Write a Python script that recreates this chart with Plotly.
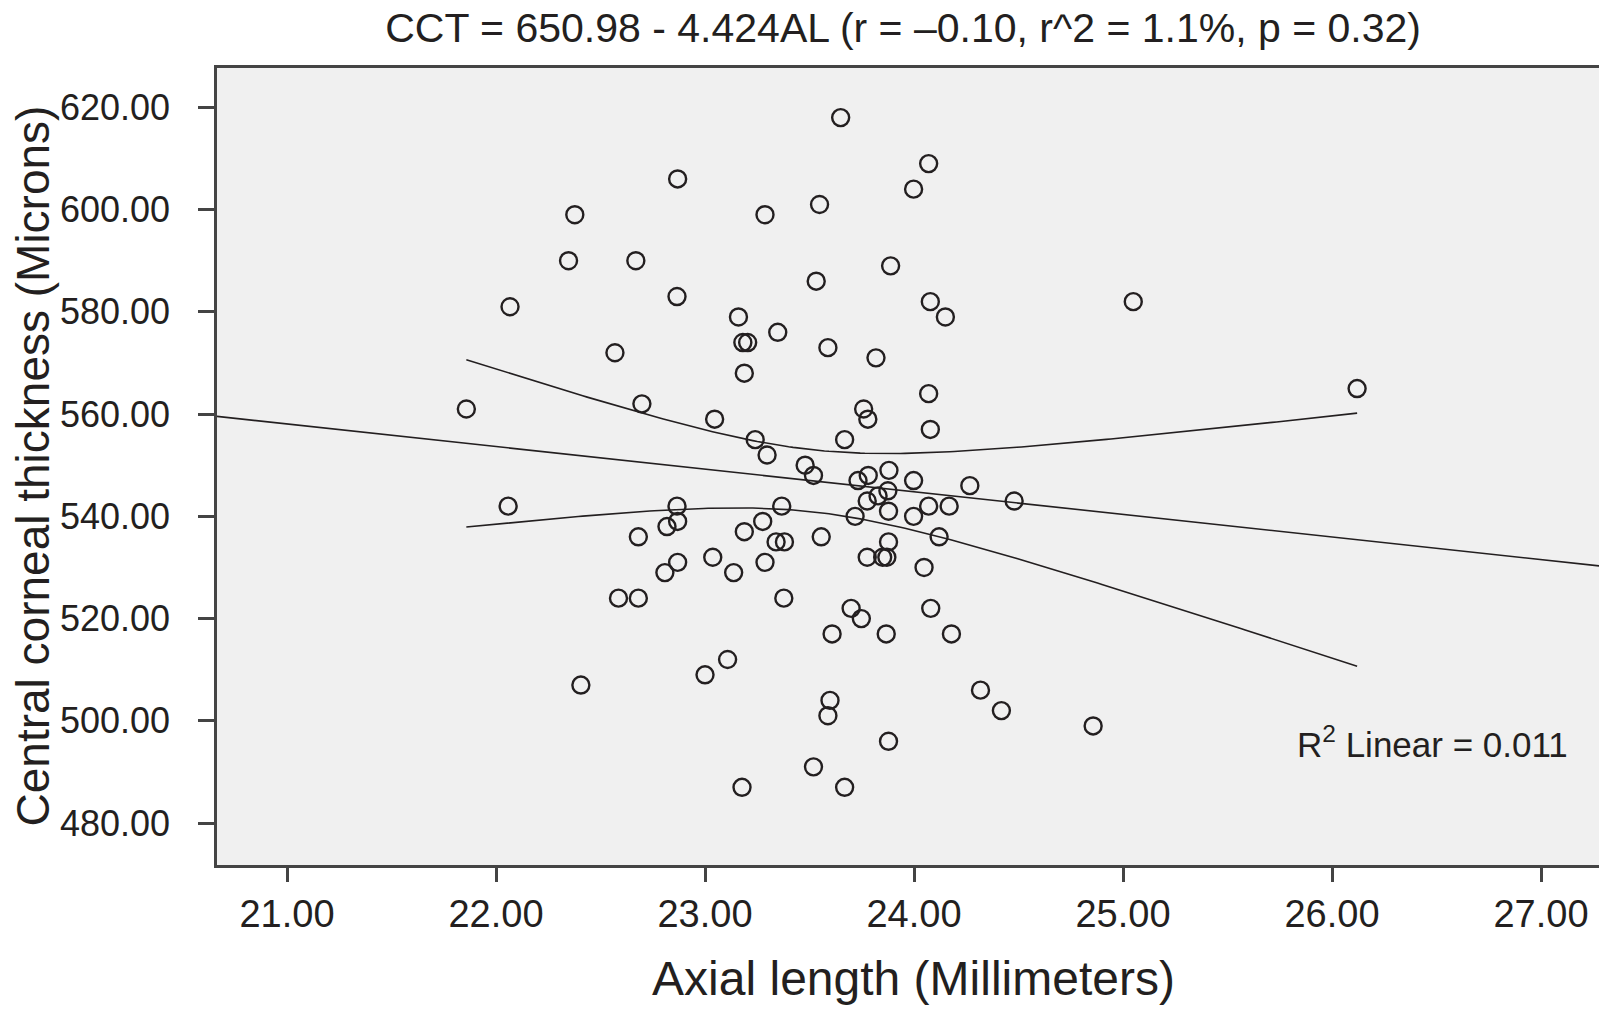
import numpy as np
import plotly.graph_objects as go

# axial length (mm) and central corneal thickness (microns)
axial_length = [
    22.869, 22.377, 23.287, 23.548, 22.347, 22.669, 23.532, 22.866, 22.067, 23.160,
    23.348, 23.181, 23.204, 22.569, 23.588, 23.818, 23.188, 23.649, 24.070, 23.998,
    23.888, 24.078, 24.150, 25.049, 21.858, 22.698, 23.046, 23.240, 23.297, 23.479,
    23.519, 22.058, 22.866, 23.367, 22.869, 22.818, 23.276, 22.681, 23.188, 23.340,
    23.380, 23.556, 23.037, 22.869, 22.808, 23.137, 23.287, 22.586, 22.681, 23.377,
    24.070, 23.759, 23.779, 24.078, 23.668, 23.732, 23.781, 23.880, 23.998, 24.267,
    23.875, 23.828, 23.776, 24.479, 23.878, 24.070, 24.168, 23.718, 23.998, 24.120,
    23.878, 23.776, 23.850, 23.870, 24.048, 23.699, 24.080, 23.748, 23.608, 23.867,
    24.179, 24.318, 24.418, 24.857, 23.598, 23.588, 23.878, 23.519, 23.668, 23.108,
    23.000, 22.406, 23.177, 26.120,
]
cct = [
    606, 599, 599, 601, 590, 590, 586, 583, 581, 579,
    576, 574, 574, 572, 573, 571, 568, 618, 609, 604,
    589, 582, 579, 582, 561, 562, 559, 555, 552, 550,
    548, 542, 542, 542, 539, 538, 539, 536, 537, 535,
    535, 536, 532, 531, 529, 529, 531, 524, 524, 524,
    564, 561, 559, 557, 555, 547, 548, 549, 547, 546,
    545, 544, 543, 543, 541, 542, 542, 540, 540, 536,
    535, 532, 532, 532, 530, 522, 522, 520, 517, 517,
    517, 506, 502, 499, 504, 501, 496, 491, 487, 512,
    509, 507, 487, 565,
]

# fitted line from the title, t value for the 95% CI of the mean
intercept = 650.98
slope = -4.424
t_crit = 1.986

x_range = [20.665, 27.33]
y_range = [471.8, 627.7]
x_ticks = [21, 22, 23, 24, 25, 26, 27]
y_ticks = [480, 500, 520, 540, 560, 580, 600, 620]

title_text = "CCT = 650.98 - 4.424AL (r = \u20130.10, r^2 = 1.1%, p = 0.32)"
x_title = "Axial length (Millimeters)"
y_title = "Central corneal thickness (Microns)"
r2_text = "R<sup>2</sup> Linear = 0.011"

x = np.array(axial_length)
y = np.array(cct)
n = len(x)
xbar = x.mean()
sxx = ((x - xbar) ** 2).sum()
resid = y - (intercept + slope * x)
s = np.sqrt((resid ** 2).sum() / (n - 2))

xs = np.linspace(x.min(), x.max(), 200)
fit = intercept + slope * xs
half = t_crit * s * np.sqrt(1 / n + (xs - xbar) ** 2 / sxx)
line_x = np.array(x_range)
line_y = intercept + slope * line_x

ink = "#231f20"
font_name = "Liberation Sans, Arial, sans-serif"

fig = go.Figure()
fig.add_trace(go.Scatter(x=line_x, y=line_y, mode="lines",
                         line=dict(color=ink, width=1.6), hoverinfo="skip"))
fig.add_trace(go.Scatter(x=xs, y=fit + half, mode="lines",
                         line=dict(color=ink, width=1.6), hoverinfo="skip"))
fig.add_trace(go.Scatter(x=xs, y=fit - half, mode="lines",
                         line=dict(color=ink, width=1.6), hoverinfo="skip"))
fig.add_trace(go.Scatter(x=axial_length, y=cct, mode="markers",
                         marker=dict(symbol="circle-open", size=17, color=ink,
                                     line=dict(width=2.4, color=ink))))

fig.add_annotation(x=27.14, y=495.9, xref="x", yref="y", text=r2_text,
                   showarrow=False, xanchor="right", yanchor="middle",
                   font=dict(family=font_name, size=35, color=ink))
# y axis title placed by hand so it sits clear of the tick labels
fig.add_annotation(x=0, y=0.5, xref="paper", yref="paper", text=y_title,
                   textangle=-90, showarrow=False, xanchor="center", yanchor="middle",
                   xshift=-185, font=dict(family=font_name, size=46, color=ink))

fig.update_layout(
    width=1607, height=1018,
    margin=dict(l=209, r=2, t=60, b=161),
    paper_bgcolor="white", plot_bgcolor="#f0f0f0",
    showlegend=False,
    title=dict(text=title_text, x=0.557, xref="container", xanchor="center",
               y=1, yref="container", yanchor="top", pad=dict(t=5),
               font=dict(family=font_name, size=41, color=ink)),
)
fig.update_xaxes(range=x_range, tickvals=x_ticks, tickformat=".2f",
                 showgrid=False, zeroline=False,
                 showline=True, linecolor="#444", linewidth=2.5, mirror=True,
                 ticks="outside", ticklen=14, tickwidth=2.5, tickcolor="#444",
                 tickfont=dict(size=38, family=font_name, color=ink),
                 title=dict(text=x_title, standoff=28,
                            font=dict(size=48, family=font_name, color=ink)))
fig.update_yaxes(range=y_range, tickvals=y_ticks, tickformat=".2f",
                 showgrid=False, zeroline=False,
                 showline=True, linecolor="#444", linewidth=2.5, mirror=True,
                 ticks="outside", ticklen=16, tickwidth=2.5, tickcolor="#444",
                 ticklabelstandoff=21,
                 tickfont=dict(size=36, family=font_name, color=ink))

fig.write_html("out.html")
